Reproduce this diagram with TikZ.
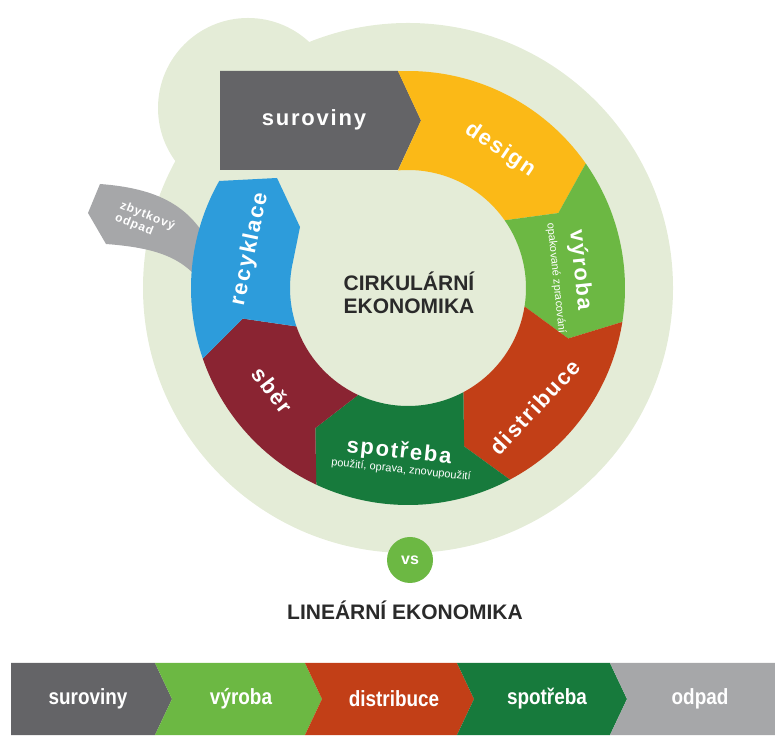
\documentclass[tikz,border=0pt]{standalone}
\usepackage{fontspec}
\setmainfont{Liberation Sans}
\newfontfamily\spacedfont[LetterSpace=8]{Liberation Sans}
\newfontfamily\narrowfont[FakeStretch=0.86]{Liberation Sans}
\usetikzlibrary{positioning}
\definecolor{bggreen}{HTML}{E4ECD7}
\definecolor{rawgray}{HTML}{646467}
\definecolor{wastegray}{HTML}{A6A7A9}
\definecolor{designyellow}{HTML}{FBB917}
\definecolor{prodgreen}{HTML}{6CB843}
\definecolor{distred}{HTML}{C23F17}
\definecolor{consgreen}{HTML}{177A3C}
\definecolor{collectred}{HTML}{8A2432}
\definecolor{recycleblue}{HTML}{2D9CDB}
\definecolor{titlegray}{HTML}{2A2A2A}
\tikzstyle{ringlabel} = [text=white, font=\spacedfont\bfseries\fontsize{22}{24}\selectfont]
\tikzstyle{sublabel} = [text=white, font=\fontsize{11}{12}\selectfont]
\tikzstyle{barlabel} = [text=white, font=\narrowfont\bfseries\fontsize{22}{24}\selectfont]
\tikzstyle{title} = [text=titlegray, font=\bfseries\fontsize{21}{23}\selectfont, align=center]
\begin{document}
\begin{tikzpicture}[x=1pt, y=1pt, node distance=153pt]
\useasboundingbox (0,0) rectangle (775,735);
\begin{scope}[shift={(408,447)}]
  \fill[bggreen] (0,0) circle[radius=265];
  \fill[bggreen] (-160,180) circle[radius=90];
  \fill[wastegray] (-320,75) -- (-308,104) .. controls (-255,100) and (-225,85) .. (-205,55) -- (-200,-5) .. controls (-220,30) and (-250,40) .. (-302,44) -- cycle;
  \fill[rawgray] (-188,118) -- (-188,217) -- (-10,217) -- (13,167.5) -- (-10,118) -- cycle;
  \fill[designyellow] (92.64:217) arc[start angle=92.64, end angle=35, radius=217] -- (26.5:168) -- (35:118) arc[start angle=35, end angle=94.86, radius=118] -- (13,167.5) -- cycle;
  \fill[prodgreen] (35:217) arc[start angle=35, end angle=-9, radius=217] -- (-17.5:168) -- (-9:118) arc[start angle=-9, end angle=35, radius=118] -- (26.5:168) -- cycle;
  \fill[distred] (-9:217) arc[start angle=-9, end angle=-62, radius=217] -- (-70.5:168) -- (-62:118) arc[start angle=-62, end angle=-9, radius=118] -- (-17.5:168) -- cycle;
  \fill[consgreen] (-62:217) arc[start angle=-62, end angle=-115, radius=217] -- (-123.5:168) -- (-115:118) arc[start angle=-115, end angle=-62, radius=118] -- (-70.5:168) -- cycle;
  \fill[collectred] (-115:217) arc[start angle=-115, end angle=-161, radius=217] -- (-169.5:168) -- (-161:118) arc[start angle=-161, end angle=-115, radius=118] -- (-123.5:168) -- cycle;
  \fill[recycleblue] (-161:217) arc[start angle=-161, end angle=-209.55, radius=217] -- (-131,110) -- (-108,61) -- (-192.7:118) arc[start angle=-192.7, end angle=-161, radius=118] -- (-169.5:168) -- cycle;

  \node (raw) [ringlabel] at (-94,168) {suroviny};
  \node (design) [ringlabel, rotate=-34] at (92,138) {design};
  \node (prod) [ringlabel, rotate=-84] at (172,18) {výroba};
  \node (prodsub) [sublabel, rotate=-84] at (148,10) {opakované zpracování};
  \node (dist) [ringlabel, rotate=47] at (127,-119) {distribuce};
  \node (cons) [ringlabel, rotate=-6] at (-9,-164) {spotřeba};
  \node (conssub) [sublabel, rotate=-6] at (-7,-182) {použití, oprava, znovupoužití};
  \node (collect) [ringlabel, rotate=-53] at (-135,-102) {sběr};
  \node (recycle) [ringlabel, rotate=78] at (-158,39) {recyklace};
  \node (waste) [sublabel, font=\spacedfont\bfseries\fontsize{12}{13}\selectfont, align=left, rotate=-22] at (-263,66) {zbytkový\\odpad};
  \node (circular) [title] at (1,-5) {CIRKULÁRNÍ\\EKONOMIKA};
\end{scope}

\node (vs) [circle, fill=prodgreen, minimum size=46pt, text=white, font=\bfseries\fontsize{16}{16}\selectfont] at (410,175) {vs};
\node (linear) [title] at (405,125) {LINEÁRNÍ EKONOMIKA};

\fill[rawgray] (11,0) -- (11,72) -- (155,72) -- (172,36) -- (155,0) -- cycle;
\fill[prodgreen] (155,0) -- (172,36) -- (155,72) -- (305,72) -- (322,36) -- (305,0) -- cycle;
\fill[distred] (305,0) -- (322,36) -- (305,72) -- (457,72) -- (474,36) -- (457,0) -- cycle;
\fill[consgreen] (457,0) -- (474,36) -- (457,72) -- (610,72) -- (627,36) -- (610,0) -- cycle;
\fill[wastegray] (610,0) -- (627,36) -- (610,72) -- (775,72) -- (775,0) -- cycle;

\node (barraw) [barlabel] at (88,36) {suroviny};
\node (barprod) [barlabel, right of=barraw] {výroba};
\node (bardist) [barlabel, right of=barprod] {distribuce};
\node (barcons) [barlabel, right of=bardist] {spotřeba};
\node (barwaste) [barlabel, right of=barcons] {odpad};
\end{tikzpicture}
\end{document}
